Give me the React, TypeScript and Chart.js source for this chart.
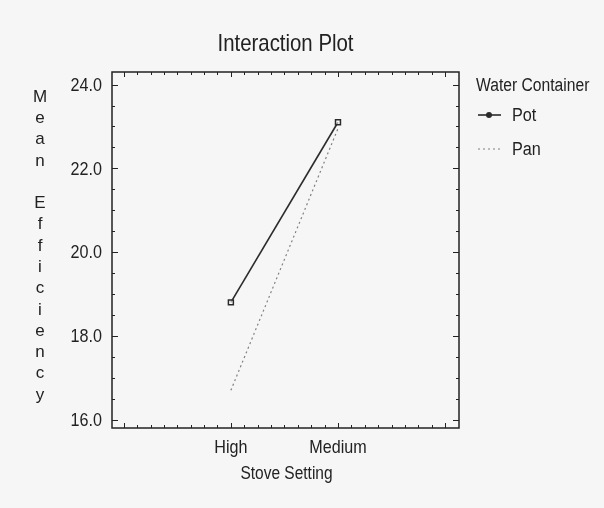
import React, { useEffect, useRef } from "react";
import { Chart, registerables } from "chart.js";

Chart.register(...registerables);

const categories = ["High", "Medium"];
const seriesNames = ["Pot", "Pan"];
const potValues = [18.8, 23.1];
const panValues = [16.7, 22.95];
const yTickValues = [16, 18, 20, 22, 24];
const chartTitle = "Interaction Plot";
const xTitle = "Stove Setting";
const yTitle = "Mean Efficiency";
const legendTitle = "Water Container";

const FONT = "'Liberation Sans', Arial, sans-serif";
const INK = "#222";

function condensedText(ctx: any, text: string, x: number, y: number, size: number, factor = 0.85) {
  ctx.font = `${size}px ${FONT}`;
  const w = ctx.measureText(text).width;
  ctx.fillText(text, x, y, w * factor);
}

const decorPlugin = {
  id: "decor",
  beforeDraw(chart: any) {
    const ctx = chart.ctx;
    ctx.save();
    ctx.fillStyle = "#f6f6f6";
    ctx.fillRect(0, 0, chart.width, chart.height);
    ctx.restore();
  },
  afterDraw(chart: any) {
    const ctx = chart.ctx;
    const { left, right, top, bottom } = chart.chartArea;
    const xs = chart.scales.x;
    const ys = chart.scales.y;
    ctx.save();
    // frame
    ctx.strokeStyle = INK;
    ctx.lineWidth = 1.5;
    ctx.strokeRect(left, top, right - left, bottom - top);
    // y ticks (inward, left & right)
    ctx.lineWidth = 1;
    for (let v = 16; v <= 24.3; v += 0.5) {
      const y = Math.round(ys.getPixelForValue(v)) + 0.5;
      const major = Math.abs(v - Math.round(v / 2) * 2) < 1e-6;
      const len = major ? 6 : 3;
      ctx.beginPath();
      ctx.moveTo(left, y);
      ctx.lineTo(left + len, y);
      ctx.moveTo(right, y);
      ctx.lineTo(right - len, y);
      ctx.stroke();
    }
    // x ticks (inward, top & bottom)
    for (let v = 0; v <= 3.1; v += 0.125) {
      const x = Math.round(xs.getPixelForValue(v)) + 0.5;
      const major = Math.abs(v - Math.round(v)) < 1e-6;
      const len = major ? 5 : 3;
      ctx.beginPath();
      ctx.moveTo(x, bottom);
      ctx.lineTo(x, bottom - len);
      ctx.moveTo(x, top);
      ctx.lineTo(x, top + len);
      ctx.stroke();
    }
    ctx.fillStyle = INK;
    ctx.textBaseline = "middle";
    // y tick labels
    ctx.textAlign = "right";
    ys.ticks.forEach((t: any) => {
      condensedText(ctx, Number(t.value).toFixed(1), left - 10, ys.getPixelForValue(t.value) + 1, 19);
    });
    // x tick labels
    ctx.textAlign = "center";
    xs.ticks.forEach((t: any) => {
      const lbl = categories[Number(t.value) - 1];
      if (lbl) condensedText(ctx, lbl, xs.getPixelForValue(t.value), 448, 19);
    });
    // title
    condensedText(ctx, chartTitle, (left + right) / 2, 44, 24);
    // x title
    condensedText(ctx, xTitle, (left + right) / 2 + 1, 474, 18, 0.86);
    // y title stacked letters
    ctx.font = `17px ${FONT}`;
    const letters = yTitle.split("");
    const y0 = 97;
    const y1 = 395;
    const step = (y1 - y0) / (letters.length - 1);
    letters.forEach((ch, i) => {
      if (ch !== " ") ctx.fillText(ch, 40, y0 + i * step);
    });
    // legend
    ctx.textAlign = "left";
    condensedText(ctx, legendTitle, 476, 86, 18, 0.87);
    const ds = chart.data.datasets;
    const rows = [115, 149];
    ds.forEach((d: any, i: number) => {
      const y = rows[i];
      ctx.strokeStyle = d.borderColor;
      ctx.lineWidth = d.borderWidth;
      ctx.setLineDash(d.borderDash || []);
      ctx.beginPath();
      ctx.moveTo(478, y);
      ctx.lineTo(501, y);
      ctx.stroke();
      ctx.setLineDash([]);
      if (i === 0) {
        ctx.fillStyle = d.borderColor;
        ctx.beginPath();
        ctx.arc(489, y, 3, 0, Math.PI * 2);
        ctx.fill();
      }
      ctx.fillStyle = INK;
      condensedText(ctx, d.label, 512, y + 1, 18, 0.9);
    });
    ctx.restore();
  },
};

export default function App() {
  const ref = useRef<HTMLCanvasElement | null>(null);
  useEffect(() => {
    if (!ref.current) return;
    const chart = new Chart(ref.current, {
      type: "line",
      data: {
        datasets: [
          {
            label: seriesNames[0],
            data: categories.map((_, i) => ({ x: i + 1, y: potValues[i] })),
            borderColor: "#2b2b2b",
            borderWidth: 1.6,
            pointStyle: "rect",
            pointRadius: 3.5,
            pointBorderWidth: 1.5,
            pointBorderColor: "#2b2b2b",
            pointBackgroundColor: "rgba(255,255,255,0.6)",
          },
          {
            label: seriesNames[1],
            data: categories.map((_, i) => ({ x: i + 1, y: panValues[i] })),
            borderColor: "#808080",
            borderWidth: 1.2,
            borderDash: [2, 3],
            pointRadius: 0,
          },
        ],
      },
      options: {
        animation: false,
        responsive: false,
        maintainAspectRatio: false,
        layout: { padding: { left: 0, top: 72, right: 145, bottom: 0 } },
        plugins: { legend: { display: false }, title: { display: false }, tooltip: { enabled: false } },
        scales: {
          x: {
            type: "linear",
            min: -0.11,
            max: 3.13,
            afterBuildTicks: (s: any) => {
              s.ticks = categories.map((_, i) => ({ value: i + 1 }));
            },
            afterFit: (s: any) => {
              s.height = 80;
            },
            ticks: { display: false },
            grid: { display: false, drawTicks: false },
            border: { display: false },
          },
          y: {
            type: "linear",
            min: 15.8,
            max: 24.3,
            afterBuildTicks: (s: any) => {
              s.ticks = yTickValues.map((v) => ({ value: v }));
            },
            afterFit: (s: any) => {
              s.width = 112;
            },
            ticks: { display: false },
            grid: { display: false, drawTicks: false },
            border: { display: false },
          },
        },
      },
      plugins: [decorPlugin],
    } as any);
    return () => chart.destroy();
  }, []);
  return (
    <div style={{ position: "fixed", left: 0, top: 0, width: 604, height: 508 }}>
      <canvas ref={ref} width={604} height={508} />
    </div>
  );
}
